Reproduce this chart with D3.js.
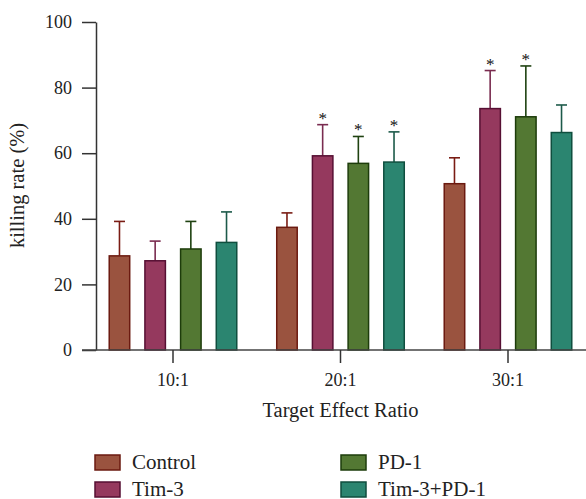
<!DOCTYPE html>
<html>
<head>
<meta charset="utf-8">
<script src="https://cdn.jsdelivr.net/npm/d3@7"></script>
<style>
  body { margin: 0; background: #fff; }
  svg { display: block; font-family: "Liberation Serif", "DejaVu Serif", serif; }
</style>
</head>
<body>
<div id="chart"></div>
<script>
// data
const ratios = ["10:1", "20:1", "30:1"];
const groups = ["Control", "Tim-3", "PD-1", "Tim-3+PD-1"];
const control = [28.7, 37.4, 50.7];
const tim3 = [27.2, 59.2, 73.6];
const pd1 = [30.8, 56.9, 71.1];
const combo = [32.8, 57.3, 66.3];
const controlErr = [39.2, 41.8, 58.6];
const tim3Err = [33.2, 68.7, 85.2];
const pd1Err = [39.2, 65.1, 86.6];
const comboErr = [42.1, 66.5, 74.7];
// significance stars
const controlStar = [false, false, false];
const tim3Star = [false, true, true];
const pd1Star = [false, true, true];
const comboStar = [false, true, false];
const yTicks = [0, 20, 40, 60, 80, 100];

const fills = ["#9a533f", "#95395e", "#537833", "#2b8570"];
const strokes = ["#6b1a10", "#560f33", "#1d3c0b", "#0f4e3e"];
const errColors = ["#7a1c14", "#7a2c50", "#1f4211", "#1d5a4a"];

const values = [control, tim3, pd1, combo];
const errs = [controlErr, tim3Err, pd1Err, comboErr];
const stars = [controlStar, tim3Star, pd1Star, comboStar];

const data = [];
ratios.forEach((r, i) => {
  groups.forEach((g, j) => {
    data.push({ ratio: r, group: g, gi: j, value: values[j][i], err: errs[j][i], star: stars[j][i] });
  });
});

const width = 586, height = 499;
const svg = d3.select("#chart").append("svg")
  .attr("width", width)
  .attr("height", height);

// scales
const x0 = d3.scaleBand().domain(ratios).range([89.25, 591.75]);
const x1 = d3.scaleBand().domain(groups).range([0, x0.bandwidth()])
  .paddingInner(0.426).paddingOuter(0.56);
const y = d3.scaleLinear().domain([0, 100]).range([350, 22]);

// y axis
const yAxis = svg.append("g")
  .attr("transform", "translate(96,0)")
  .call(d3.axisLeft(y).tickValues(yTicks).tickSize(14).tickSizeOuter(0).tickPadding(10));
yAxis.select(".domain").attr("stroke", "#333").attr("stroke-width", 1.5);
yAxis.selectAll(".tick line").attr("stroke", "#333").attr("stroke-width", 1.5);
yAxis.selectAll(".tick text").attr("font-size", 18).attr("fill", "#222")
  .attr("font-family", "Liberation Serif, serif");

// bars
const bar = svg.append("g").selectAll("g")
  .data(data)
  .join("g")
  .attr("transform", d => "translate(" + (x0(d.ratio) + x1(d.group)) + ",0)");

// error bars (upper)
bar.append("line")
  .attr("x1", x1.bandwidth() / 2)
  .attr("x2", x1.bandwidth() / 2)
  .attr("y1", d => y(d.value))
  .attr("y2", d => y(d.err))
  .attr("stroke", d => errColors[d.gi])
  .attr("stroke-width", 1.6);
bar.append("line")
  .attr("x1", x1.bandwidth() / 2 - 5.5)
  .attr("x2", x1.bandwidth() / 2 + 5.5)
  .attr("y1", d => y(d.err))
  .attr("y2", d => y(d.err))
  .attr("stroke", d => errColors[d.gi])
  .attr("stroke-width", 1.6);

bar.append("rect")
  .attr("x", 0)
  .attr("y", d => y(d.value))
  .attr("width", x1.bandwidth())
  .attr("height", d => y(0) - y(d.value))
  .attr("fill", d => fills[d.gi])
  .attr("stroke", d => strokes[d.gi])
  .attr("stroke-width", 1.5);

bar.filter(d => d.star).append("text")
  .attr("x", x1.bandwidth() / 2)
  .attr("y", d => y(d.err) - 1)
  .attr("text-anchor", "middle")
  .attr("font-size", 17)
  .attr("fill", "#111")
  .text("*");

// x axis
svg.append("line")
  .attr("x1", 82).attr("x2", 586)
  .attr("y1", y(0)).attr("y2", y(0))
  .attr("stroke", "#444").attr("stroke-width", 1.5);
const xAxis = svg.append("g")
  .attr("transform", "translate(0," + y(0) + ")")
  .call(d3.axisBottom(x0).tickSize(13).tickSizeOuter(0).tickPadding(10));
xAxis.select(".domain").remove();
xAxis.selectAll(".tick line").attr("stroke", "#333").attr("stroke-width", 1.5);
xAxis.selectAll(".tick text").attr("font-size", 18).attr("fill", "#222")
  .attr("font-family", "Liberation Serif, serif");

// axis titles
svg.append("text")
  .attr("x", 340.5)
  .attr("y", 417)
  .attr("text-anchor", "middle")
  .attr("font-size", 20.5)
  .attr("fill", "#222")
  .text("Target Effect Ratio");

svg.append("text")
  .attr("transform", "translate(24,185.5) rotate(-90)")
  .attr("text-anchor", "middle")
  .attr("font-size", 20.5)
  .attr("fill", "#222")
  .text("killing rate (%)");

// legend
const legendPos = [[95, 455], [95, 482], [341, 455], [341, 482]];
const legend = svg.append("g").selectAll("g")
  .data(groups)
  .join("g")
  .attr("transform", (d, i) => "translate(" + legendPos[i][0] + "," + legendPos[i][1] + ")");
legend.append("rect")
  .attr("width", 25).attr("height", 15)
  .attr("fill", (d, i) => fills[i])
  .attr("stroke", (d, i) => strokes[i])
  .attr("stroke-width", 1.5);
legend.append("text")
  .attr("x", 37).attr("y", 13.5)
  .attr("font-size", 21)
  .attr("fill", "#222")
  .text(d => d);
</script>
</body>
</html>
